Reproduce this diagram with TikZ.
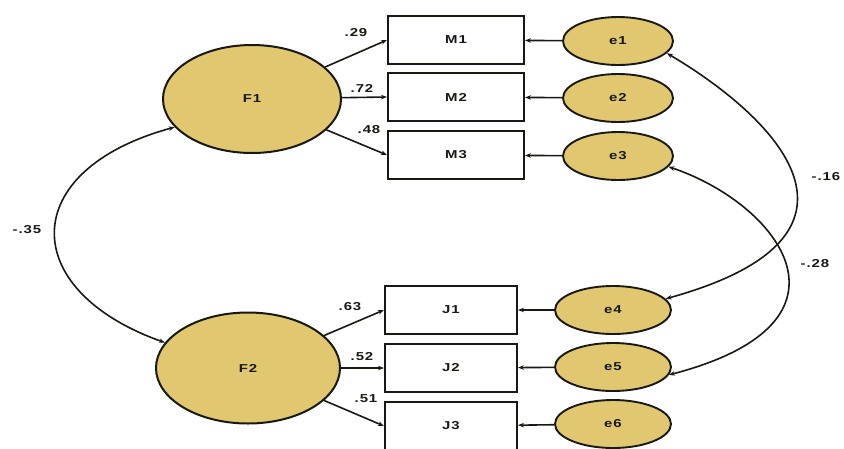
\documentclass[tikz,border=0pt]{standalone}
\usepackage{fontspec}
\setmainfont{Liberation Sans}[FakeStretch=1.3, LetterSpace=8]
\usetikzlibrary{arrows.meta,shapes.geometric}
\definecolor{latfill}{RGB}{224,199,112}
\definecolor{ink}{RGB}{25,25,20}
\tikzset{
  every node/.style={font=\fontsize{11.5}{14}\selectfont\bfseries, text=ink},
  latent/.style={ellipse, draw=ink, line width=2pt, fill=latfill, minimum width=178pt, minimum height=108pt, inner sep=0pt},
  errvar/.style={ellipse, draw=ink, line width=1.9pt, fill=latfill, minimum width=110pt, minimum height=48pt, inner sep=0pt},
  obsbox/.style={rectangle, draw=ink, line width=2pt, fill=white, minimum width=136pt, minimum height=48pt, inner sep=0pt},
  path/.style={draw=ink, line width=1.6pt, -{Stealth[length=6pt,width=4.5pt]}},
  cov/.style={draw=ink, line width=1.6pt, {Stealth[length=6pt,width=4.5pt]}-{Stealth[length=6pt,width=4.5pt]}},
  lbl/.style={inner sep=0pt}
}
\begin{document}
\begin{tikzpicture}[x=1pt,y=-1pt]
\useasboundingbox[fill=white] (0,0) rectangle (844,448);
% latent factors
\node[latent] (F1) at (252,99) {F1};
\node[latent, minimum width=184pt, minimum height=111pt] (F2) at (248,368) {F2};
% observed
\node[obsbox] (M1) at (456,40) {M1};
\node[obsbox] (M2) at (456,97) {M2};
\node[obsbox] (M3) at (456,155) {M3};
\node[obsbox, minimum width=132pt] (J1) at (451,310) {J1};
\node[obsbox, minimum width=132pt] (J2) at (451,368) {J2};
\node[obsbox, minimum width=132pt] (J3) at (451,426) {J3};
% errors
\node[errvar] (e1) at (618,41) {e1};
\node[errvar] (e2) at (618,98) {e2};
\node[errvar] (e3) at (618,156) {e3};
\node[errvar, minimum width=116pt] (e4) at (613,310) {e4};
\node[errvar, minimum width=116pt] (e5) at (613,367) {e5};
\node[errvar, minimum width=116pt] (e6) at (613,424) {e6};
% loadings
\draw[path] (F1) -- (M1.west);
\draw[path] (F1) -- (M2.west);
\draw[path] (F1) -- (M3.west);
\draw[path] (F2) -- (J1.west);
\draw[path] (F2) -- (J2.west);
\draw[path] (F2) -- (J3.west);
% error paths
\draw[path] (e1) -- (M1);
\draw[path] (e2) -- (M2);
\draw[path] (e3) -- (M3);
\draw[path] (e4) -- (J1);
\draw[path] (e5) -- (J2);
\draw[path] (e6) -- (J3);
% covariances
\draw[cov] (F1.200) .. controls (17,170) and (17,290) .. (F2.163);
\draw[cov] (e1.-14) .. controls (778,119) and (893,236) .. (e4.12);
\draw[cov] (e3.-12) .. controls (777,203) and (872,322) .. (e5.-8);
% labels
\node[lbl] (l29) at (356,33) {.29};
\node[lbl] (l72) at (362,88) {.72};
\node[lbl] (l48) at (369,130) {.48};
\node[lbl] (l63) at (350,307) {.63};
\node[lbl] (l52) at (362,357) {.52};
\node[lbl] (l51) at (366,399) {.51};
\node[lbl] (l35) at (27,230) {-.35};
\node[lbl] (l16) at (826,177) {-.16};
\node[lbl] (l28) at (815,264) {-.28};
\end{tikzpicture}
\end{document}
